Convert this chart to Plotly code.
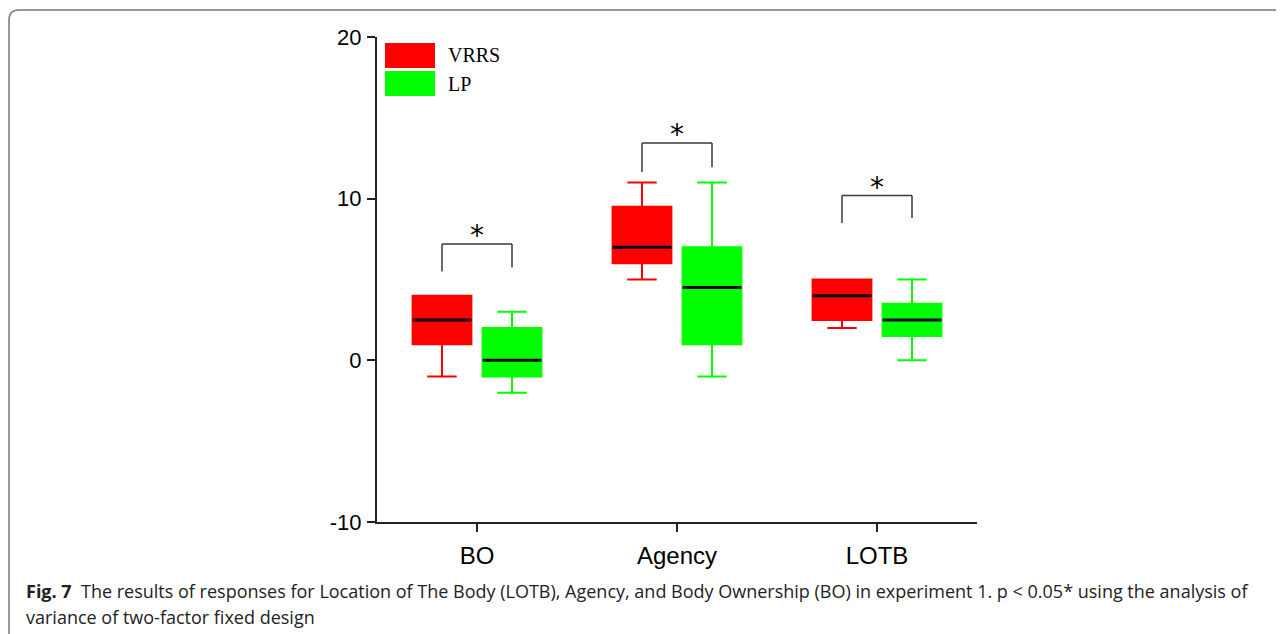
import plotly.graph_objects as go

# ---- data ----
categories = ["BO", "Agency", "LOTB"]
series_names = ["VRRS", "LP"]
series_colors = ["#ff0000", "#00ff00"]

vrrs_lower = [-1, 5, 2]
vrrs_q1 = [1, 6, 2.5]
vrrs_median = [2.5, 7, 4]
vrrs_q3 = [4, 9.5, 5]
vrrs_upper = [4, 11, 5]

lp_lower = [-2, -1, 0]
lp_q1 = [-1, 1, 1.5]
lp_median = [0, 4.5, 2.5]
lp_q3 = [2, 7, 3.5]
lp_upper = [3, 11, 5]

bracket_top = [7.2, 13.45, 10.2]
bracket_left_bottom = [5.5, 11.65, 8.5]
bracket_right_bottom = [5.75, 11.95, 8.8]
sig_marks = ["*", "*", "*"]

y_ticks = [-10, 0, 10, 20]
y_tick_text = ["-10", "0", "10", "20"]

caption_lines = [
    "<b>Fig. 7</b>  The results of responses for Location of The Body (LOTB), Agency, and Body Ownership (BO) "
    "in experiment 1. p < 0.05* using the analysis of",
    "variance of two-factor fixed design",
]

# ---- layout geometry (pixels) ----
OFF = 8  # default page body margin
VW, VH = 1284, 634
W, H = VW - OFF, VH - OFF
L, T = 377 - OFF, 37 - OFF
PW = 977 - 377
PH = 522 - 37
R = W - L - PW
B = H - T - PH


def px(x):
    """viewport x pixel -> paper coordinate"""
    return (x - OFF - L) / PW


def py(y):
    """viewport y pixel -> paper coordinate"""
    return (T + PH - (y - OFF)) / PH


BOXGAP = 0.3
BOXGROUPGAP = 0.16
off = (1 - BOXGAP) / 4  # centre offset of each box within a category

fig = go.Figure()
stats = [
    (vrrs_lower, vrrs_q1, vrrs_median, vrrs_q3, vrrs_upper),
    (lp_lower, lp_q1, lp_median, lp_q3, lp_upper),
]
for i, (lo, q1, med, q3, up) in enumerate(stats):
    fig.add_trace(go.Box(
        x=categories, q1=q1, median=med, q3=q3, lowerfence=lo, upperfence=up,
        name=series_names[i], offsetgroup=str(i),
        fillcolor=series_colors[i], line=dict(color=series_colors[i], width=2),
        whiskerwidth=0.5, boxpoints=False, showlegend=False, hoverinfo="skip",
    ))
# black median lines drawn as flat boxes on top
for i, (lo, q1, med, q3, up) in enumerate(stats):
    fig.add_trace(go.Box(
        x=categories, q1=med, median=med, q3=med, lowerfence=med, upperfence=med,
        name=series_names[i] + " median", offsetgroup=str(i),
        fillcolor="rgba(0,0,0,0)", line=dict(color="black", width=3),
        whiskerwidth=0, boxpoints=False, showlegend=False, hoverinfo="skip",
    ))

shapes = []
annotations = []
# significance brackets
for k, cat in enumerate(categories):
    xl, xr = k - off, k + off
    lc = dict(color="#3a3a3a", width=1.5)
    shapes.append(dict(type="line", xref="x", yref="y", x0=xl, x1=xl,
                       y0=bracket_left_bottom[k], y1=bracket_top[k], line=lc))
    shapes.append(dict(type="line", xref="x", yref="y", x0=xr, x1=xr,
                       y0=bracket_right_bottom[k], y1=bracket_top[k], line=lc))
    shapes.append(dict(type="line", xref="x", yref="y", x0=xl, x1=xr,
                       y0=bracket_top[k], y1=bracket_top[k], line=lc))
    annotations.append(dict(x=k, y=bracket_top[k], xref="x", yref="y", text=sig_marks[k],
                            showarrow=False, yanchor="middle", yshift=8,
                            font=dict(family="DejaVu Sans", size=28, color="black")))

# manual legend with large swatches
leg_y = [(43, 68), (71, 96)]
for i, name in enumerate(series_names):
    y0, y1 = leg_y[i]
    shapes.append(dict(type="rect", xref="paper", yref="paper",
                       x0=px(385), x1=px(435), y0=py(y1), y1=py(y0),
                       fillcolor=series_colors[i], line=dict(width=0)))
    annotations.append(dict(x=px(446), y=py((y0 + y1) / 2), xref="paper", yref="paper",
                            text=name, showarrow=False, xanchor="left", yanchor="middle",
                            font=dict(family="Liberation Serif", size=20, color="black")))

# figure frame (rounded top-left corner)
r = 10
fx, fy = 9, 10
path = (f"M {px(fx)} {py(VH + 10)} L {px(fx)} {py(fy + r)} "
        f"Q {px(fx)} {py(fy)} {px(fx + r)} {py(fy)} L {px(VW + 10)} {py(fy)}")
shapes.append(dict(type="path", xref="paper", yref="paper", path=path,
                   line=dict(color="#777777", width=1.5)))

# caption (two lines)
for j, (line_text, yc) in enumerate(zip(caption_lines, [591, 617])):
    annotations.append(dict(x=px(24), y=py(yc), xref="paper", yref="paper", text=line_text,
                            showarrow=False, xanchor="left", yanchor="middle", align="left",
                            font=dict(family="Open Sans", size=18, color="#222222")))

fig.update_layout(
    width=W, height=H,
    margin=dict(l=L, r=R, t=T, b=B, pad=0),
    plot_bgcolor="white", paper_bgcolor="white",
    boxmode="group", boxgap=BOXGAP, boxgroupgap=BOXGROUPGAP,
    showlegend=False,
    shapes=shapes, annotations=annotations,
    xaxis=dict(type="category", range=[-0.5, 2.5], showgrid=False, zeroline=False,
               showline=True, linecolor="#222222", linewidth=2,
               ticks="outside", ticklen=8, tickwidth=1.5, tickcolor="#222222",
               tickfont=dict(family="Liberation Sans", size=24, color="black"),
               ticklabelstandoff=3),
    yaxis=dict(range=[-10, 20], tickvals=y_ticks, ticktext=y_tick_text,
               showgrid=False, zeroline=False,
               showline=True, linecolor="#222222", linewidth=2,
               ticks="outside", ticklen=8, tickwidth=1.5, tickcolor="#222222",
               tickfont=dict(family="Liberation Sans", size=22, color="black"),
               ticklabelstandoff=1),
)

fig.write_html("out.html")
